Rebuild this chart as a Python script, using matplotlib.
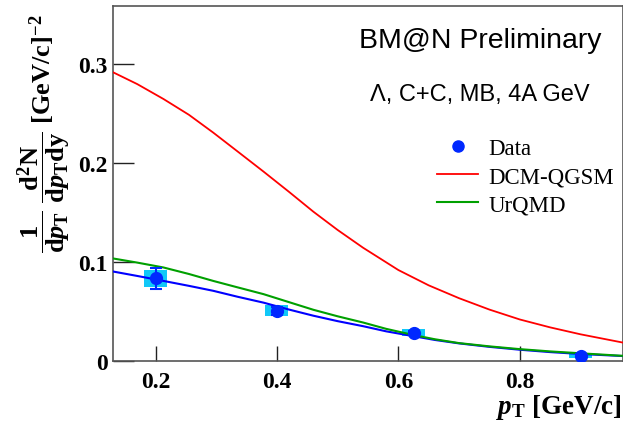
import numpy as np
import matplotlib
matplotlib.use('Agg')
import matplotlib.pyplot as plt
from matplotlib.patches import Rectangle
from matplotlib.lines import Line2D

plt.rcParams['font.family'] = ['Liberation Serif', 'DejaVu Serif']
plt.rcParams['mathtext.fontset'] = 'custom'
plt.rcParams['mathtext.rm'] = 'Liberation Serif:bold'
plt.rcParams['mathtext.it'] = 'Liberation Serif:italic:bold'
plt.rcParams['mathtext.bf'] = 'Liberation Serif:bold'

# data points (pT, value, stat error, syst error)
pt_data = [0.2, 0.4, 0.625, 0.9]
y_data = [0.0838, 0.0507, 0.0285, 0.0055]
stat_err = [0.0106, 0.004, 0.002, 0.0015]
syst_err = [0.0086, 0.0056, 0.0034, 0.0022]
syst_halfwidth = 0.019

# fit to data (blue)
pt_fit = [0.13, 0.17, 0.213, 0.255, 0.295, 0.335, 0.378, 0.42, 0.46, 0.50, 0.542, 0.58,
          0.624, 0.66, 0.7, 0.75, 0.8, 0.85, 0.9, 0.97]
y_fit = [0.0905, 0.086, 0.081, 0.076, 0.071, 0.065, 0.059, 0.052, 0.0458, 0.0403, 0.0352, 0.0300,
         0.0252, 0.0213, 0.0178, 0.0143, 0.0114, 0.0090, 0.0071, 0.0050]

# DCM-QGSM (red)
pt_dcm = [0.13, 0.17, 0.213, 0.255, 0.295, 0.335, 0.378, 0.42, 0.46, 0.50, 0.542, 0.6,
          0.65, 0.7, 0.75, 0.8, 0.85, 0.9, 0.97]
y_dcm = [0.292, 0.280, 0.265, 0.249, 0.231, 0.212, 0.1915, 0.171, 0.151, 0.1325, 0.1145, 0.092,
         0.0765, 0.0635, 0.052, 0.042, 0.034, 0.027, 0.0186]

# UrQMD (green)
pt_urqmd = [0.13, 0.17, 0.213, 0.255, 0.295, 0.335, 0.378, 0.42, 0.46, 0.50, 0.542, 0.58,
            0.624, 0.66, 0.7, 0.75, 0.8, 0.85, 0.9, 0.97]
y_urqmd = [0.1037, 0.0995, 0.0946, 0.088, 0.081, 0.0745, 0.0676, 0.0595, 0.0518, 0.0452, 0.0389, 0.0325,
           0.0264, 0.0220, 0.0181, 0.0148, 0.0120, 0.0097, 0.0078, 0.0052]

fig = plt.figure(figsize=(6.23, 4.27), dpi=100)
ax = fig.add_axes([113/623, 1-362/427, 510/623, 355/427])

for x, y, s in zip(pt_data, y_data, syst_err):
    ax.add_patch(Rectangle((x-syst_halfwidth, y-s), 2*syst_halfwidth, 2*s,
                           facecolor='#10c8f8', edgecolor='none', zorder=2))

ax.plot(pt_fit, y_fit, color='#0000ff', lw=1.5, zorder=3)
ax.plot(pt_dcm, y_dcm, color='#ff0000', lw=1.3, zorder=3)
ax.plot(pt_urqmd, y_urqmd, color='#00a000', lw=1.5, zorder=4)
ax.errorbar(pt_data, y_data, yerr=stat_err, fmt='o', color='#0028ff',
            ms=8.5, capsize=4, elinewidth=1.5, capthick=1.5, zorder=5)

ax.set_xlim(0.13, 0.97)
ax.set_ylim(0, 0.359)
ax.set_xticks([0.2, 0.4, 0.6, 0.8])
ax.set_xticklabels(['0.2', '0.4', '0.6', '0.8'])
ax.set_yticks([0, 0.1, 0.2, 0.3])
ax.set_yticklabels(['0', '0.1', '0.2', '0.3'])
ax.tick_params(direction='in', top=False, right=False, labelsize=17, width=1, colors='#222222')
ax.tick_params(axis='x', length=11, pad=7)
ax.tick_params(axis='y', length=15, pad=4)
for lab in ax.get_xticklabels() + ax.get_yticklabels():
    lab.set_fontweight('bold')
    lab.set_color('black')
for side in ['top', 'right', 'left', 'bottom']:
    ax.spines[side].set_color('#555555')
    ax.spines[side].set_linewidth(1.2)

ax.text(0.72, 0.905, 'BM@N Preliminary', transform=ax.transAxes, ha='center', va='center',
        fontsize=20.5, family=['Liberation Sans'])
ax.text(0.72, 0.752, '\u039b, C+C, MB, 4A GeV', transform=ax.transAxes, ha='center', va='center',
        fontsize=17, family=['Liberation Sans'])

handles = [Line2D([], [], marker='o', color='#0028ff', ls='none', ms=8),
           Line2D([], [], color='#ff0000', lw=1.3),
           Line2D([], [], color='#00a000', lw=1.5)]
ax.legend(handles, ['Data', 'DCM-QGSM', 'UrQMD'], loc='upper left',
          bbox_to_anchor=(0.595, 0.685), frameon=False, fontsize=16.5,
          handlelength=1.8, handletextpad=0.45, labelspacing=0.3)

fig.text(44/623, 1-15/427,
         r'$\dfrac{1}{\mathrm{d}p_{\mathrm{T}}}\ \dfrac{\mathrm{d}^{2}\mathrm{N}}{\mathrm{d}p_{\mathrm{T}}\mathrm{dy}}$ [GeV/c]$^{\mathrm{-2}}$',
         rotation=90, ha='center', va='top', fontsize=19, fontweight='bold')
fig.text(622/623, 1-408/427, r'$p_{\mathrm{T}}$ [GeV/c]', ha='right', va='center',
         fontsize=19.5, fontweight='bold')

plt.savefig('out.png', dpi=100)
